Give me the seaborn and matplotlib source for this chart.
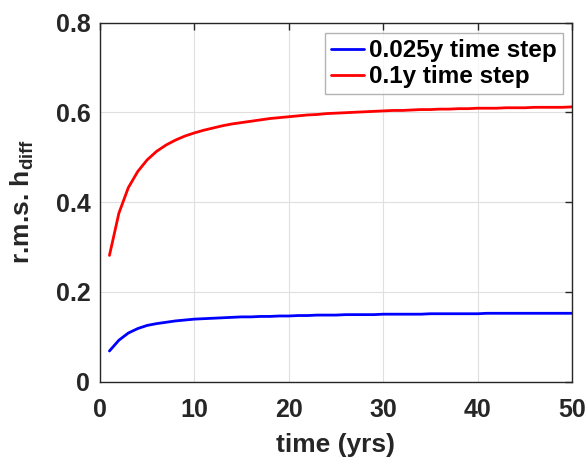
import numpy as np
import pandas as pd
import matplotlib
matplotlib.use("Agg")
import matplotlib.pyplot as plt
import seaborn as sns

years = list(range(1, 51))
rms_025 = [0.068, 0.092, 0.108, 0.118, 0.125, 0.129, 0.132, 0.135, 0.137, 0.139,
           0.140, 0.141, 0.142, 0.143, 0.144, 0.144, 0.145, 0.145, 0.146, 0.146,
           0.147, 0.147, 0.148, 0.148, 0.148, 0.149, 0.149, 0.149, 0.149, 0.150,
           0.150, 0.150, 0.150, 0.150, 0.151, 0.151, 0.151, 0.151, 0.151, 0.151,
           0.152, 0.152, 0.152, 0.152, 0.152, 0.152, 0.152, 0.152, 0.152, 0.152]
rms_01 = [0.281, 0.375, 0.432, 0.468, 0.494, 0.513, 0.527, 0.538, 0.547, 0.554,
          0.560, 0.565, 0.570, 0.574, 0.577, 0.580, 0.583, 0.586, 0.588, 0.590,
          0.592, 0.594, 0.595, 0.597, 0.598, 0.599, 0.600, 0.601, 0.602, 0.603,
          0.604, 0.604, 0.605, 0.606, 0.606, 0.607, 0.607, 0.608, 0.608, 0.609,
          0.609, 0.609, 0.610, 0.610, 0.610, 0.611, 0.611, 0.611, 0.611, 0.612]
series_names = ["0.025y time step", "0.1y time step"]
xticks = [0, 10, 20, 30, 40, 50]
yticks = [0, 0.2, 0.4, 0.6, 0.8]
ytick_labels = ["0", "0.2", "0.4", "0.6", "0.8"]

df = pd.DataFrame({
    "time": years + years,
    "rms": rms_025 + rms_01,
    "series": [series_names[0]] * len(years) + [series_names[1]] * len(years),
})

sns.set_theme(style="white")
plt.rcParams["font.family"] = ["Liberation Sans", "DejaVu Sans"]
plt.rcParams["mathtext.fontset"] = "custom"
plt.rcParams["mathtext.bf"] = "Liberation Sans:bold"
plt.rcParams["mathtext.rm"] = "Liberation Sans:bold"

fig = plt.figure(figsize=(5.86, 4.57), dpi=100)
ax = fig.add_axes([100 / 586, 1 - 381.5 / 457, 472 / 586, 359 / 457])

sns.lineplot(data=df, x="time", y="rms", hue="series",
             palette={series_names[0]: "#0000ff", series_names[1]: "#ff0000"},
             linewidth=2, ax=ax)

ax.set_xlim(0, 50)
ax.set_ylim(0, 0.8)
ax.set_xticks(xticks)
ax.set_xticklabels([str(t) for t in xticks])
ax.set_yticks(yticks)
ax.set_yticklabels(ytick_labels)
ax.grid(True, color="#dfdfdf", linewidth=0.8)
ax.set_axisbelow(True)
for s in ax.spines.values():
    s.set_color("#262626")
    s.set_linewidth(1.0)
ax.tick_params(direction="in", length=5, width=1, color="#262626",
               top=True, right=True, labelsize=18, labelcolor="#262626")
ax.tick_params(axis="x", pad=12)
ax.tick_params(axis="y", pad=7)
for lab in ax.get_xticklabels() + ax.get_yticklabels():
    lab.set_fontweight("bold")

ax.set_xlabel("time (yrs)", fontsize=19, fontweight="bold", color="#262626", labelpad=8)
ax.set_ylabel(r"r.m.s. h$_{\mathbf{diff}}$", fontsize=19, fontweight="bold",
              color="#262626", labelpad=14)

leg = ax.legend(loc="upper right", bbox_to_anchor=(0.98, 0.97),
                prop={"weight": "bold", "size": 17.5}, frameon=True,
                fancybox=False, edgecolor="#a0a0a0", handlelength=1.35,
                handletextpad=0.2, borderpad=0.25, labelspacing=0.12,
                borderaxespad=0.0)
leg.get_frame().set_linewidth(1.0)
for t in leg.get_texts():
    t.set_color("black")

fig.savefig("out.png", dpi=100)
